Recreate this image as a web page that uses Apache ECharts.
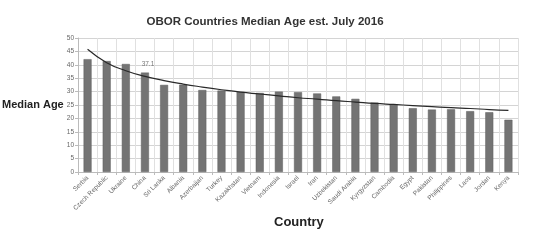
<!DOCTYPE html>
<html>
<head>
<meta charset="utf-8">
<script src="https://cdn.jsdelivr.net/npm/echarts@6/dist/echarts.min.js"></script>
<style>
  html, body { margin: 0; padding: 0; background: #fff; }
  #chart { width: 538px; height: 241px; }
</style>
</head>
<body>
<div id="chart"></div>
<script>
  var countries = ['Serbia', 'Czech Republic', 'Ukraine', 'China', 'Sri Lanka', 'Albania', 'Azerbaijan',
    'Turkey', 'Kazakhstan', 'Vietnam', 'Indonesia', 'Israel', 'Iran', 'Uzbekistan', 'Saudi Arabia',
    'Kyrgyzstan', 'Cambodia', 'Egypt', 'Pakistan', 'Philippines', 'Laos', 'Jordan', 'Kenya']
  var medianAge = [42.1, 41.4, 40.3, 37.1, 32.5, 32.6, 30.6, 30.4, 29.9, 29.5, 30.0, 29.8, 29.3,
    28.2, 27.3, 25.9, 25.2, 23.8, 23.3, 23.4, 22.7, 22.3, 19.5]
  // trend line
  var trend = [45.8, 40.8, 37.8, 35.7, 34.1, 32.8, 31.7, 30.7, 29.8, 29.1, 28.4, 27.7, 27.2,
    26.6, 26.1, 25.6, 25.2, 24.8, 24.4, 24.0, 23.7, 23.3, 23.0]
  var labelled = 'China'

  var chart = echarts.init(document.getElementById('chart'))
  chart.setOption({
    animation: false,
    title: {
      text: 'OBOR Countries Median Age est. July 2016',
      left: 260,
      top: 11,
      textAlign: 'center',
      textStyle: { fontSize: 11.5, fontWeight: 'bold', color: '#333', fontFamily: 'Liberation Sans' }
    },
    graphic: [
      {
        type: 'text', left: 2, top: 99,
        style: { text: 'Median Age', font: 'bold 11px Liberation Sans', fill: '#222' }
      },
      {
        type: 'text', left: 274, top: 216,
        style: { text: 'Country', font: 'bold 13px Liberation Sans', fill: '#222' }
      }
    ],
    grid: { left: 78, right: 20, top: 38, bottom: 69 },
    xAxis: {
      type: 'category',
      data: countries,
      axisLine: { lineStyle: { color: '#bbb' } },
      axisTick: { show: true, lineStyle: { color: '#bbb' }, length: 3 },
      axisLabel: { rotate: 45, fontSize: 6.5, color: '#666', interval: 0, margin: 5, fontFamily: 'Liberation Sans' },
      splitLine: { show: true, lineStyle: { color: '#e0e0e0' } }
    },
    yAxis: {
      type: 'value',
      min: 0, max: 50, interval: 5,
      axisLine: { show: true, lineStyle: { color: '#bbb' } },
      axisTick: { show: true, length: 3, lineStyle: { color: '#bbb' } },
      axisLabel: { fontSize: 6.5, color: '#666', margin: 4, fontFamily: 'Liberation Sans' },
      splitLine: { lineStyle: { color: '#d4d4d4' } }
    },
    series: [
      {
        type: 'bar',
        data: medianAge.map(function (v, i) {
          return countries[i] === labelled
            ? { value: v, label: { show: true, position: 'top', fontSize: 6.5, color: '#777', offset: [3, 0] } }
            : v
        }),
        barWidth: 8,
        itemStyle: { color: '#747474', borderColor: '#5e5e5e', borderWidth: 0.5 }
      },
      {
        type: 'line',
        data: trend,
        smooth: true,
        symbol: 'none',
        lineStyle: { color: '#2a2a2a', width: 1.2 },
        z: 5
      }
    ]
  })
</script>
</body>
</html>
